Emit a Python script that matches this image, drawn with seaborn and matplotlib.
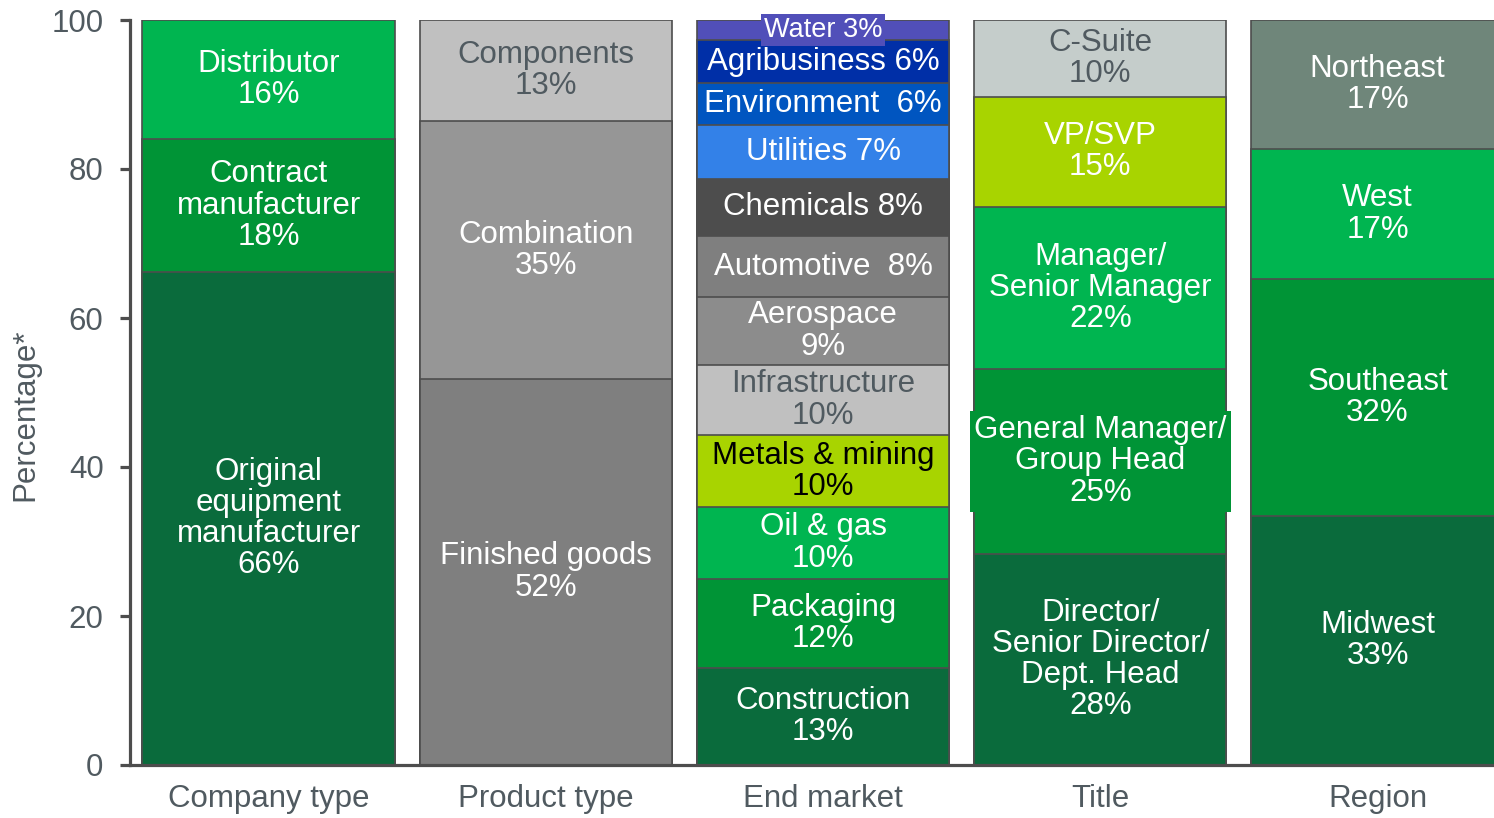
import numpy as np
import pandas as pd
import matplotlib
matplotlib.use("Agg")
import matplotlib.pyplot as plt
import seaborn as sns

groups = ["Company type", "Product type", "End market", "Title", "Region"]

# segments listed bottom -> top, heights
company_labels = ["Original\nequipment\nmanufacturer\n66%", "Contract\nmanufacturer\n18%", "Distributor\n16%"]
company_values = [66.2, 17.8, 16.0]

product_labels = ["Finished goods\n52%", "Combination\n35%", "Components\n13%"]
product_values = [51.8, 34.6, 13.6]

market_labels = ["Construction\n13%", "Packaging\n12%", "Oil & gas\n10%", "Metals & mining\n10%",
                 "Infrastructure\n10%", "Aerospace\n9%", "Automotive  8%", "Chemicals 8%",
                 "Utilities 7%", "Environment  6%", "Agribusiness 6%", "Water 3%"]
market_values = [13.0, 12.0, 9.6, 9.7, 9.4, 9.1, 8.2, 7.7, 7.2, 5.6, 5.8, 2.7]

title_labels = ["Director/\nSenior Director/\nDept. Head\n28%", "General Manager/\nGroup Head\n25%",
                "Manager/\nSenior Manager\n22%", "VP/SVP\n15%", "C-Suite\n10%"]
title_values = [28.3, 24.9, 21.7, 14.8, 10.3]

region_labels = ["Midwest\n33%", "Southeast\n32%", "West\n17%", "Northeast\n17%"]
region_values = [33.4, 31.8, 17.5, 17.3]

# colours
DKGREEN, GREEN, LTGREEN, LIME = "#0a6b3c", "#009436", "#00b550", "#a8d400"
company_colors = [DKGREEN, GREEN, LTGREEN]
product_colors = ["#7f7f7f", "#969696", "#c0c0c0"]
market_colors = [DKGREEN, GREEN, LTGREEN, LIME, "#c0c0c0", "#8c8c8c", "#7f7f7f", "#4d4d4d",
                 "#3381e8", "#0055c0", "#002fa7", "#514fb9"]
title_colors = [DKGREEN, GREEN, LTGREEN, LIME, "#c5cdcb"]
region_colors = [DKGREEN, GREEN, LTGREEN, "#6f867a"]

GREYTXT = "#505a60"
dark_text = {"Components\n13%", "Infrastructure\n10%", "C-Suite\n10%"}

rows = []
for g, labs, vals, cols in zip(groups,
                               [company_labels, product_labels, market_labels, title_labels, region_labels],
                               [company_values, product_values, market_values, title_values, region_values],
                               [company_colors, product_colors, market_colors, title_colors, region_colors]):
    tops = np.cumsum(vals)
    for lab, v, t, c in zip(labs, vals, tops, cols):
        rows.append(dict(group=g, label=lab, value=v, top=t, bottom=t - v, color=c,
                         key=g + "|" + lab))
df = pd.DataFrame(rows)

sns.set_theme(style="ticks")
plt.rcParams["font.family"] = ["Liberation Sans", "DejaVu Sans"]

fig = plt.figure(figsize=(14.94, 8.18), dpi=100)
ax = fig.add_axes([130 / 1494, 53 / 818, 1 - 130 / 1494, 745 / 818])

# stacked bars: draw cumulative tops, tallest first
order_df = df.sort_values("top", ascending=False)
sns.barplot(data=order_df, x="group", y="top", hue="key",
            hue_order=list(order_df["key"]), palette=dict(zip(df["key"], df["color"])),
            order=groups, dodge=False, width=0.91, saturation=1, errorbar=None,
            edgecolor="#4d4d4d", linewidth=1.2, legend=False, ax=ax)

for _, r in df.iterrows():
    xi = groups.index(r["group"])
    y = r["bottom"] + r["value"] / 2
    col = "white"
    if r["label"] in dark_text:
        col = GREYTXT
    if r["label"].startswith("Metals"):
        col = "black"
    kw = {}
    fs = 22.5
    if r["label"].startswith("Water"):
        fs = 19.5
        kw["bbox"] = dict(facecolor=r["color"], edgecolor="none", pad=2)
    if r["label"].startswith("General"):
        kw["bbox"] = dict(facecolor=r["color"], edgecolor="none", pad=3)
    ax.text(xi, y, r["label"], ha="center", va="center", fontsize=fs, color=col,
            linespacing=1.05, **kw)

ax.set_xlim(-0.5, 4.42)
ax.set_ylim(0, 100)
ax.set_yticks(range(0, 101, 20))
ax.set_xlabel("")
ax.set_ylabel("Percentage*", fontsize=22.5, color=GREYTXT)
ax.yaxis.set_label_coords(-0.066, 0.47)
for s in ["top", "right"]:
    ax.spines[s].set_visible(False)
for s in ["left", "bottom"]:
    ax.spines[s].set_linewidth(2.3)
    ax.spines[s].set_color("#4d4d4d")
ax.tick_params(axis="y", length=7, width=2.3, color="#4d4d4d", labelsize=22.5,
               labelcolor=GREYTXT, pad=12)
ax.tick_params(axis="x", length=0, labelsize=22.5, labelcolor=GREYTXT, pad=14)

fig.savefig("out.png", dpi=100)
